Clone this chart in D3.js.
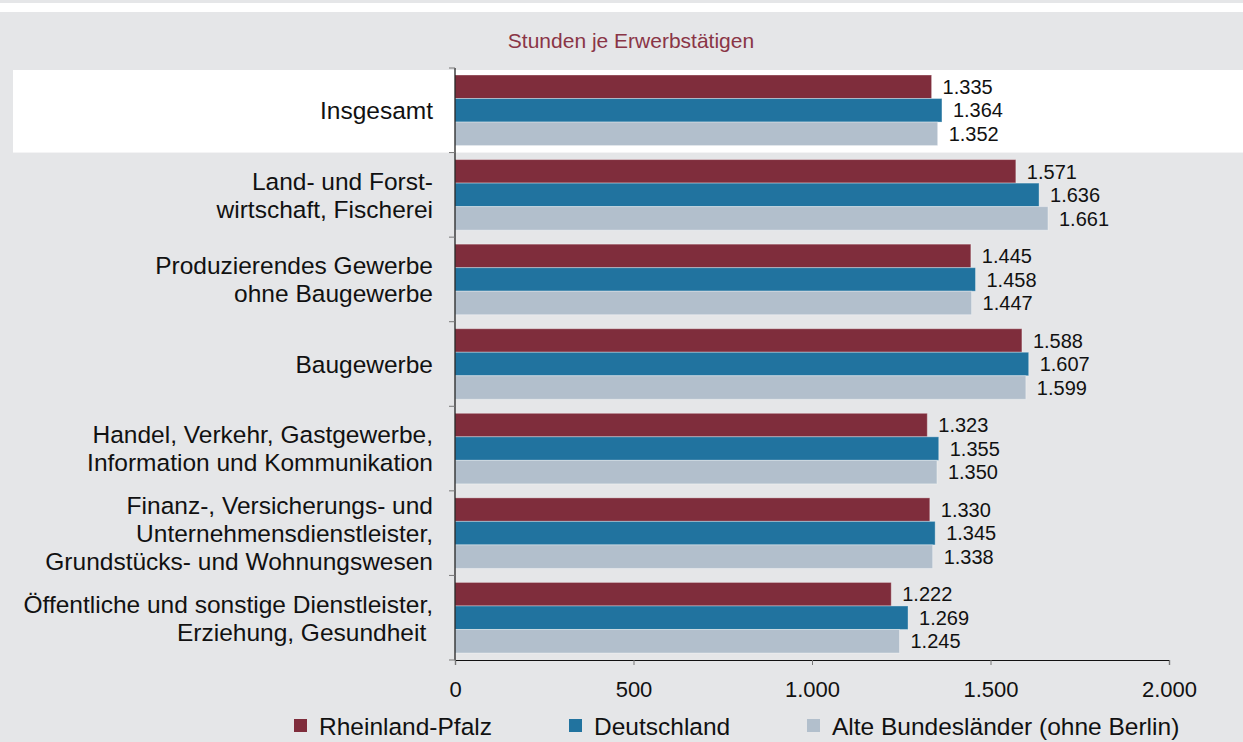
<!DOCTYPE html>
<html>
<head>
<meta charset="utf-8">
<script src="https://cdn.jsdelivr.net/npm/d3@7"></script>
<style>
  body { margin: 0; background: #fff; }
  svg { display: block; font-family: "Liberation Sans", Arial, sans-serif; }
</style>
</head>
<body>
<div id="chart"></div>
<script>
// data
const categories = [
    ["Insgesamt"],
    ["Land- und Forst-", "wirtschaft, Fischerei"],
    ["Produzierendes Gewerbe", "ohne Baugewerbe"],
    ["Baugewerbe"],
    ["Handel, Verkehr, Gastgewerbe,", "Information und Kommunikation"],
    ["Finanz-, Versicherungs- und", "Unternehmensdienstleister,", "Grundstücks- und Wohnungswesen"],
    ["Öffentliche und sonstige Dienstleister,", "Erziehung, Gesundheit\u00a0"]
];
const seriesNames = ["Rheinland-Pfalz", "Deutschland", "Alte Bundesländer (ohne Berlin)"];
const rlpValues = [1335, 1571, 1445, 1588, 1323, 1330, 1222];
const deValues = [1364, 1636, 1458, 1607, 1355, 1345, 1269];
const altValues = [1352, 1661, 1447, 1599, 1350, 1338, 1245];
const xTicks = [0, 500, 1000, 1500, 2000];
const colors = ["#7f2d3c", "#21739f", "#b2bfcc"];

const width = 1243, height = 742;
const plot = { left: 455, right: 1169, top: 68, bottom: 660 };

const svg = d3.select("#chart").append("svg")
    .attr("width", width)
    .attr("height", height);

// background
svg.append("rect").attr("width", width).attr("height", height).attr("fill", "#fff");
svg.append("rect").attr("width", width).attr("height", 3).attr("fill", "#e5e6e8");
svg.append("rect").attr("y", 12).attr("width", width).attr("height", height - 12).attr("fill", "#e5e6e8");

const fmt = v => d3.format(",")(v).replace(/,/g, ".");

const x = d3.scaleLinear().domain([0, 2000]).range([plot.left, plot.right]);
const y = d3.scaleBand().domain(d3.range(categories.length)).range([plot.top, plot.bottom]);
const inner = d3.scaleBand().domain(d3.range(3)).range([7, y.bandwidth() - 7]);

// highlight band for "Insgesamt"
svg.append("rect")
    .attr("x", 13).attr("y", y(0) + 2)
    .attr("width", width - 13).attr("height", y.bandwidth() - 2)
    .attr("fill", "#fff");

svg.append("text")
    .attr("x", 631).attr("y", 48)
    .attr("text-anchor", "middle")
    .style("font-size", "21px")
    .style("fill", "#8a3546")
    .text("Stunden je Erwerbstätigen");

const seriesValues = [rlpValues, deValues, altValues];
const rows = categories.map((c, i) => ({ idx: i, values: seriesValues.map(s => s[i]) }));

const groups = svg.selectAll(".grp").data(rows).enter().append("g")
    .attr("class", "grp")
    .attr("transform", d => `translate(0,${y(d.idx)})`);

groups.selectAll("rect").data(d => d.values.map((v, k) => ({ v, k }))).enter().append("rect")
    .attr("x", x(0))
    .attr("y", d => inner(d.k))
    .attr("width", d => x(d.v) - x(0))
    .attr("height", inner.bandwidth())
    .attr("fill", d => colors[d.k])
    .attr("stroke", "rgba(255,255,255,0.35)")
    .attr("stroke-width", 1);

groups.selectAll(".val").data(d => d.values.map((v, k) => ({ v, k }))).enter().append("text")
    .attr("class", "val")
    .attr("x", d => x(d.v) + 11)
    .attr("y", d => inner(d.k) + inner.bandwidth() / 2)
    .attr("dy", "0.36em")
    .style("font-size", "20px")
    .style("fill", "#111")
    .text(d => fmt(d.v));

// category labels
const lineH = 28;
groups.each(function(d) {
    const lines = categories[d.idx];
    const t = d3.select(this).append("text")
        .attr("text-anchor", "end")
        .style("font-size", "24.5px")
        .style("fill", "#111");
    const y0 = y.bandwidth() / 2 - (lines.length - 1) * lineH / 2;
    lines.forEach((ln, j) => {
        t.append("tspan")
            .attr("x", 433)
            .attr("y", y0 + j * lineH)
            .attr("dy", "0.36em")
            .text(ln);
    });
});

// axes
svg.append("line").attr("x1", plot.left).attr("x2", plot.left).attr("y1", plot.top).attr("y2", plot.bottom)
    .attr("stroke", "#111").attr("stroke-width", 1.2);
svg.selectAll(".ytick").data(d3.range(categories.length + 1)).enter().append("line")
    .attr("x1", plot.left - 6).attr("x2", plot.left)
    .attr("y1", d => d < categories.length ? y(d) : plot.bottom)
    .attr("y2", d => d < categories.length ? y(d) : plot.bottom)
    .attr("stroke", "#777");

const xAxis = svg.append("g")
    .attr("transform", `translate(0,${plot.bottom})`)
    .call(d3.axisBottom(x).tickValues(xTicks).tickSize(5).tickPadding(16).tickFormat(fmt));
xAxis.select(".domain").attr("stroke", "#111").attr("stroke-width", 1.2);
xAxis.selectAll(".tick line").attr("stroke", "#777");
xAxis.selectAll("text")
    .style("font-size", "22px")
    .style("font-family", "'Liberation Sans', Arial, sans-serif")
    .attr("fill", "#111");

// legend
const legendX = [294, 569, 807];
const legend = svg.selectAll(".leg").data(seriesNames).enter().append("g")
    .attr("transform", (d, i) => `translate(${legendX[i]},719)`);
legend.append("rect").attr("width", 13).attr("height", 13).attr("fill", (d, i) => colors[i]);
legend.append("text")
    .attr("x", 25).attr("y", 7).attr("dy", "0.36em")
    .style("font-size", "24.5px")
    .style("fill", "#111")
    .text(d => d);
</script>
</body>
</html>
